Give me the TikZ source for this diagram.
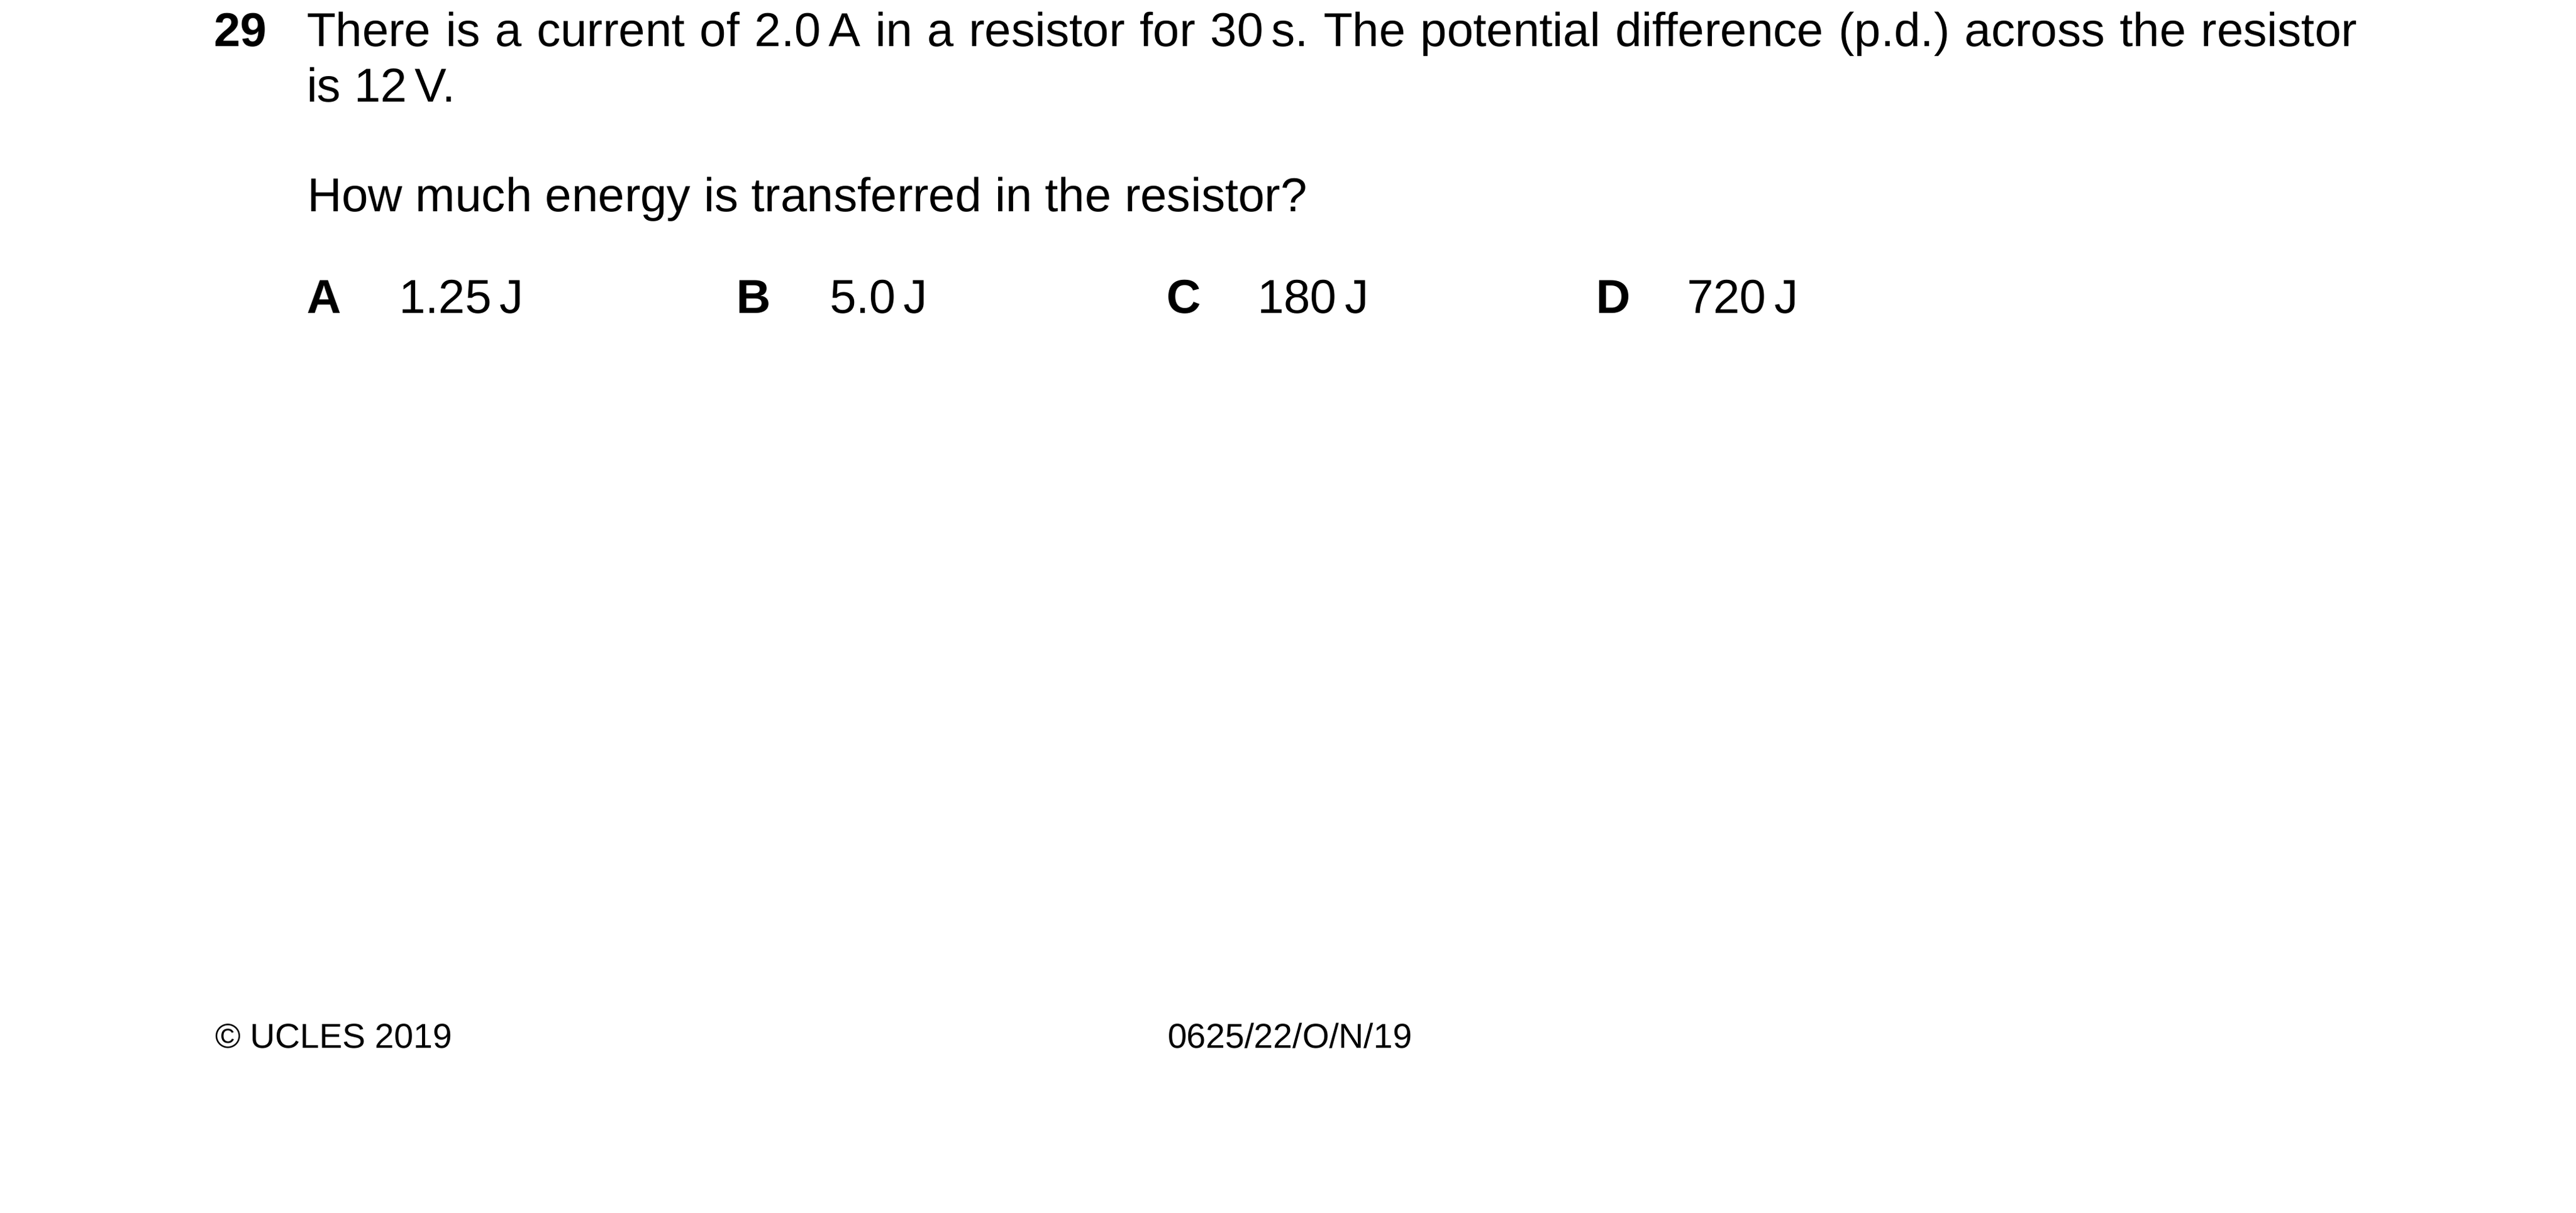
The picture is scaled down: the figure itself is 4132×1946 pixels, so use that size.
\documentclass[tikz,border=0pt]{standalone}
\usepackage{fontspec}
\setmainfont{Liberation Sans}
\begin{document}
\begin{tikzpicture}[x=0.14407pt,y=-0.14407pt,
  txt/.style={anchor=base west,inner sep=0pt,outer sep=0pt,font=\fontsize{11}{13}\selectfont\frenchspacing},
  bld/.style={txt,font=\fontsize{11}{13}\selectfont\bfseries},
  foot/.style={anchor=base west,inner sep=0pt,outer sep=0pt,font=\fontsize{8}{10}\selectfont}]
\useasboundingbox[fill=white] (0,0) rectangle (4132,1946);
\node[bld] (qnum) at (343,75) {29};
\node[txt] (l1) at (492,75) {\makebox[473.9pt][s]{There is a current of 2.0\,A in a resistor for 30\,s. The potential difference (p.d.) across the resistor}};
\node[txt] (l2) at (492,163) {is 12\,V.};
\node[txt] (l3) at (493,339) {How much energy is transferred in the resistor?};
\node[bld] (oa) at (492,502) {A};
\node[txt] (va) at (640,502) {1.25\,J};
\node[bld] (ob) at (1181,502) {B};
\node[txt] (vb) at (1331,502) {5.0\,J};
\node[bld] (oc) at (1871,502) {C};
\node[txt] (vc) at (2017,502) {180\,J};
\node[bld] (od) at (2560,502) {D};
\node[txt] (vd) at (2706,502) {720\,J};
\node[foot] (f1) at (345,1681) {© UCLES 2019};
\node[foot] (f2) at (1873,1681) {0625/22/O/N/19};
\end{tikzpicture}
\end{document}
